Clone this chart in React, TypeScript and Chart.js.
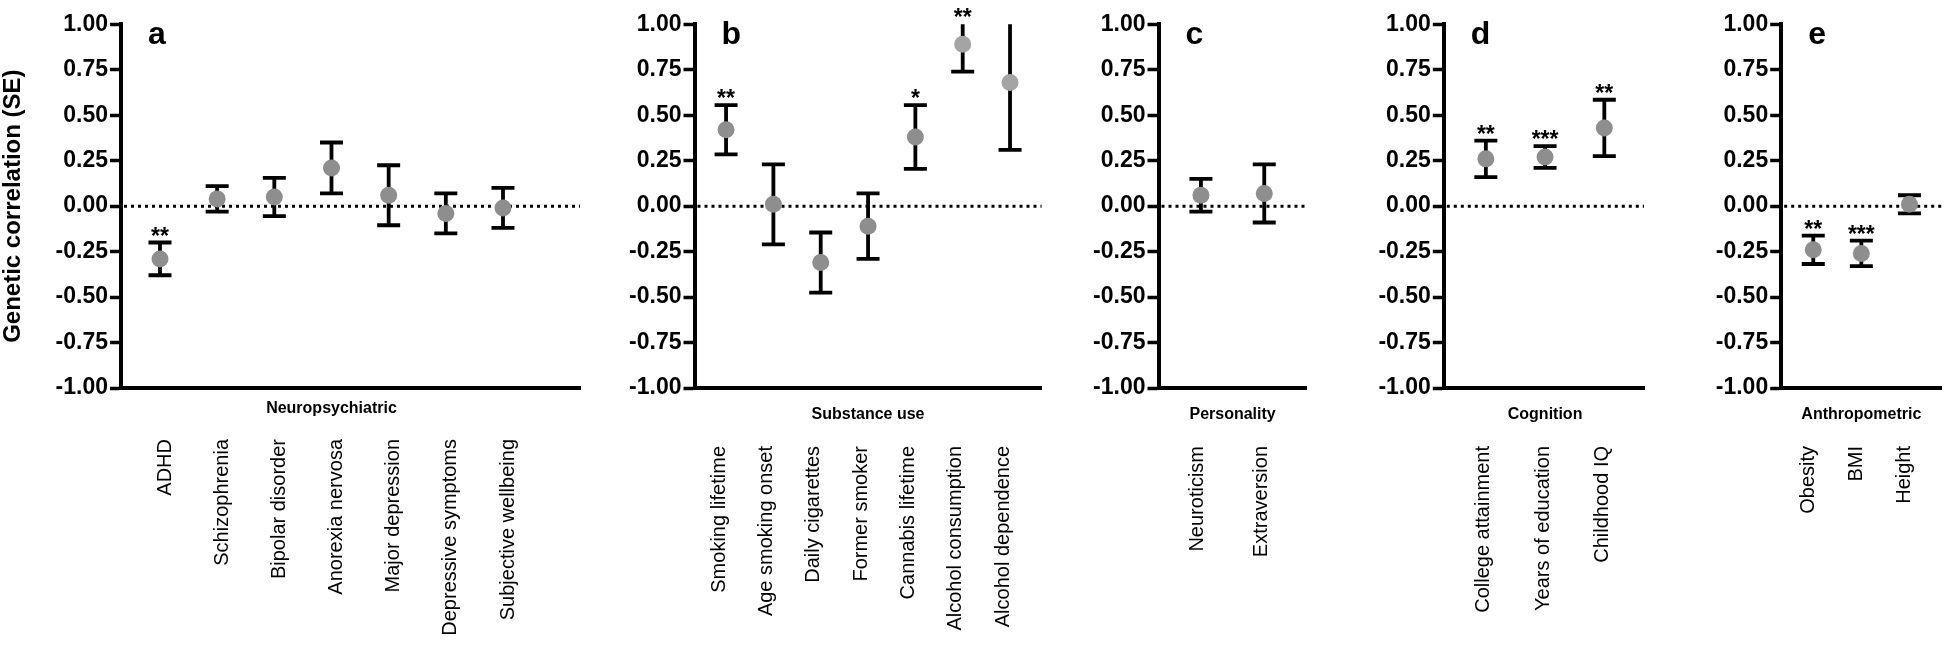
import React, { useEffect, useRef } from "react";
import { Chart, registerables } from "chart.js";

Chart.register(...registerables);

// ---------------- DATA ----------------
const Y_TICKS = [-1, -0.75, -0.5, -0.25, 0, 0.25, 0.5, 0.75, 1];
const Y_TITLE = "Genetic correlation (SE)";

const NEURO_LABELS = ["ADHD", "Schizophrenia", "Bipolar disorder", "Anorexia nervosa", "Major depression", "Depressive symptoms", "Subjective wellbeing"];
const NEURO_RG = [-0.29, 0.04, 0.05, 0.21, 0.06, -0.04, -0.01];
const NEURO_SE = [0.09, 0.07, 0.105, 0.14, 0.165, 0.11, 0.11];
const NEURO_SIG = ["**", "", "", "", "", "", ""];

const SUBST_LABELS = ["Smoking lifetime", "Age smoking onset", "Daily cigarettes", "Former smoker", "Cannabis lifetime", "Alcohol consumption", "Alcohol dependence"];
const SUBST_RG = [0.42, 0.01, -0.31, -0.11, 0.38, 0.89, 0.68];
const SUBST_SE = [0.135, 0.22, 0.165, 0.18, 0.175, 0.15, 0.37];
const SUBST_SIG = ["**", "", "", "", "*", "**", ""];

const PERS_LABELS = ["Neuroticism", "Extraversion"];
const PERS_RG = [0.06, 0.07];
const PERS_SE = [0.09, 0.16];
const PERS_SIG = ["", ""];

const COG_LABELS = ["College attainment", "Years of education", "Childhood IQ"];
const COG_RG = [0.26, 0.27, 0.43];
const COG_SE = [0.1, 0.06, 0.155];
const COG_SIG = ["**", "***", "**"];

const ANTH_LABELS = ["Obesity", "BMI", "Height"];
const ANTH_RG = [-0.24, -0.26, 0.01];
const ANTH_SE = [0.078, 0.07, 0.05];
const ANTH_SIG = ["**", "***", ""];

// ---------------- STYLE / LAYOUT ----------------
const FONT = '"Liberation Sans", Arial, Helvetica, sans-serif';
const H = 646;
const PLOT_TOP = 24.3;
const PLOT_BOTTOM = 388;
const DOT = "#8e8e8e";
const DOT_LIGHT = "#a4a4a4";

type Panel = {
  letter: string; group: string; labels: string[]; rg: number[]; se: number[]; sig: string[];
  left: number; width: number; axisX: number; endX: number; xMin: number; xMax: number;
  titleY: number; labelTop: number; labelDx: number; yTitle: boolean; colors?: string[];
};

const PANELS: Panel[] = [
  { letter: "a", group: "Neuropsychiatric", labels: NEURO_LABELS, rg: NEURO_RG, se: NEURO_SE, sig: NEURO_SIG,
    left: 0, width: 600, axisX: 121, endX: 580, xMin: 0.318, xMax: 8.347, titleY: 413, labelTop: 439, labelDx: 5, yTitle: true },
  { letter: "b", group: "Substance use", labels: SUBST_LABELS, rg: SUBST_RG, se: SUBST_SE, sig: SUBST_SIG,
    left: 600, width: 460, axisX: 694.5, endX: 1041.6, xMin: 0.333, xMax: 7.667, titleY: 419, labelTop: 446, labelDx: -7, yTitle: false,
    colors: [DOT, DOT, DOT, DOT, DOT, DOT_LIGHT, DOT_LIGHT] },
  { letter: "c", group: "Personality", labels: PERS_LABELS, rg: PERS_RG, se: PERS_SE, sig: PERS_SIG,
    left: 1060, width: 305, axisX: 1158.5, endX: 1306.7, xMin: 0.33, xMax: 2.67, titleY: 419, labelTop: 446, labelDx: -3, yTitle: false },
  { letter: "d", group: "Cognition", labels: COG_LABELS, rg: COG_RG, se: COG_SE, sig: COG_SIG,
    left: 1365, width: 335, axisX: 1443.8, endX: 1644, xMin: 0.29, xMax: 3.67, titleY: 419, labelTop: 446, labelDx: -2, yTitle: false },
  { letter: "e", group: "Anthropometric", labels: ANTH_LABELS, rg: ANTH_RG, se: ANTH_SE, sig: ANTH_SIG,
    left: 1700, width: 250, axisX: 1781.2, endX: 1942.4, xMin: 0.333, xMax: 3.667, titleY: 419, labelTop: 446, labelDx: -5, yTitle: false },
];

function overlayPlugin(p: Panel) {
  return {
    id: "overlay_" + p.letter,
    beforeDatasetsDraw(chart: any) {
      const { ctx, chartArea, scales } = chart;
      const x = scales.x, y = scales.y;
      ctx.save();
      // dotted zero line
      const y0 = y.getPixelForValue(0);
      ctx.strokeStyle = "#000";
      ctx.lineWidth = 3;
      ctx.setLineDash([3, 4]);
      ctx.beginPath();
      ctx.moveTo(chartArea.left + 3, y0);
      ctx.lineTo(chartArea.right, y0);
      ctx.stroke();
      ctx.setLineDash([]);
      // error bars
      ctx.lineWidth = 3.8;
      ctx.lineCap = "butt";
      p.rg.forEach((v, i) => {
        const hi = v + p.se[i];
        const lo = v - p.se[i];
        const px = x.getPixelForValue(i + 1);
        const yHi = y.getPixelForValue(Math.min(hi, 1));
        const yLo = y.getPixelForValue(Math.max(lo, -1));
        ctx.beginPath();
        ctx.moveTo(px, yHi);
        ctx.lineTo(px, yLo);
        if (hi <= 1) { ctx.moveTo(px - 11.5, yHi); ctx.lineTo(px + 11.5, yHi); }
        if (lo >= -1) { ctx.moveTo(px - 11.5, yLo); ctx.lineTo(px + 11.5, yLo); }
        ctx.stroke();
      });
      ctx.restore();
    },
    afterDatasetsDraw(chart: any) {
      const { ctx, chartArea, scales } = chart;
      const x = scales.x, y = scales.y;
      ctx.save();
      ctx.fillStyle = "#000";
      // significance stars
      ctx.font = `bold 23px ${FONT}`;
      ctx.textAlign = "center";
      ctx.textBaseline = "alphabetic";
      p.rg.forEach((v, i) => {
        if (!p.sig[i]) return;
        const px = x.getPixelForValue(i + 1);
        const yTop = y.getPixelForValue(Math.min(v + p.se[i], 1));
        ctx.fillText(p.sig[i], px, yTop + 1);
      });
      // panel letter
      ctx.font = `bold 32px ${FONT}`;
      ctx.textAlign = "left";
      ctx.fillText(p.letter, chartArea.left + 27, 44);
      // group title
      const first = x.getPixelForValue(1);
      const last = x.getPixelForValue(p.rg.length);
      ctx.font = `bold 16px ${FONT}`;
      ctx.textAlign = "center";
      ctx.fillText(p.group, (first + last) / 2, p.titleY);
      // category labels (rotated)
      ctx.font = `20px ${FONT}`;
      ctx.textAlign = "right";
      ctx.textBaseline = "middle";
      p.labels.forEach((lab, i) => {
        const px = x.getPixelForValue(i + 1) + p.labelDx;
        ctx.save();
        ctx.translate(px, p.labelTop);
        ctx.rotate(-Math.PI / 2);
        ctx.fillText(lab, 0, 0);
        ctx.restore();
      });
      ctx.restore();
    },
  };
}

function PanelChart({ p }: { p: Panel }) {
  const ref = useRef<HTMLCanvasElement | null>(null);
  useEffect(() => {
    if (!ref.current) return;
    const yWidth = p.axisX - p.left;
    const padRight = p.left + p.width - p.endX;
    const chart = new Chart(ref.current, {
      type: "scatter",
      data: {
        datasets: [
          {
            data: p.rg.map((v, i) => ({ x: i + 1, y: v })),
            pointRadius: 8.5,
            pointHoverRadius: 8.5,
            pointBackgroundColor: p.colors || DOT,
            pointBorderWidth: 0,
            borderColor: "rgba(0,0,0,0)",
          },
        ],
      },
      options: {
        animation: false,
        responsive: false,
        events: [],
        layout: { padding: { left: 0, right: padRight, top: PLOT_TOP, bottom: 0 } },
        plugins: { legend: { display: false }, tooltip: { enabled: false } },
        scales: {
          x: {
            type: "linear",
            min: p.xMin,
            max: p.xMax,
            afterFit: (s: any) => { s.height = H - PLOT_BOTTOM; },
            grid: { display: false },
            border: { display: true, width: 4, color: "#000" },
            ticks: { display: false },
          },
          y: {
            type: "linear",
            min: -1,
            max: 1,
            afterBuildTicks: (s: any) => { s.ticks = Y_TICKS.map((v) => ({ value: v })); },
            afterFit: (s: any) => { s.width = yWidth; },
            ticks: {
              callback: (v: any) => Number(v).toFixed(2),
              font: { family: FONT, size: 23, weight: "bold" },
              color: "#000",
              padding: 2,
            },
            grid: { display: true, drawOnChartArea: false, drawTicks: true, tickLength: 11, tickWidth: 3.5, tickColor: "#000", color: "#000" },
            border: { display: true, width: 4, color: "#000" },
            title: {
              display: p.yTitle,
              text: Y_TITLE,
              font: { family: FONT, size: 24, weight: "bold", lineHeight: 1.1 },
              color: "#000",
              padding: 0,
            },
          },
        },
      },
      plugins: [overlayPlugin(p)],
    } as any);
    return () => chart.destroy();
  }, [p]);
  return (
    <canvas
      ref={ref}
      width={p.width}
      height={H}
      style={{ position: "absolute", left: p.left, top: 0, width: p.width, height: H, display: "block" }}
    />
  );
}

export default function App() {
  return (
    <div style={{ position: "absolute", left: 0, top: 0, width: 1950, height: H, background: "#fff", overflow: "hidden" }}>
      {PANELS.map((p) => (
        <PanelChart key={p.letter} p={p} />
      ))}
    </div>
  );
}
